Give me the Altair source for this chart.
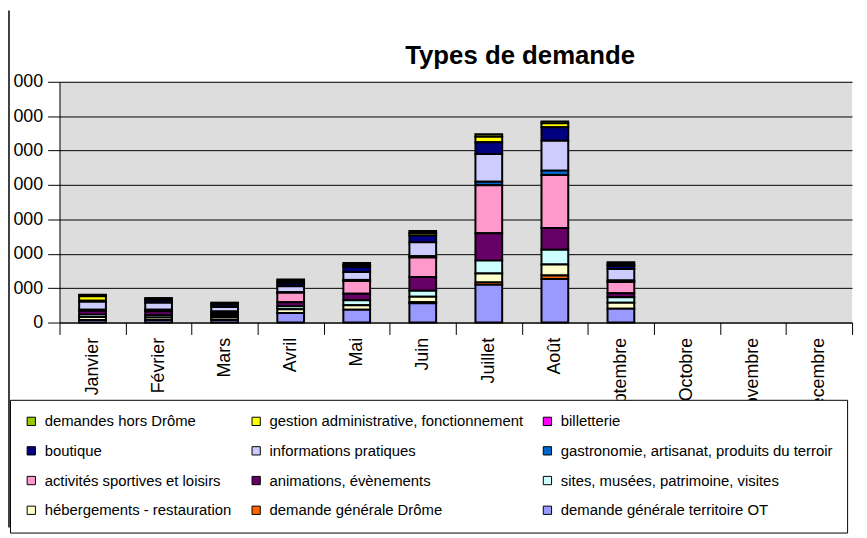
import altair as alt
import pandas as pd

months = ["Janvier", "Février", "Mars", "Avril", "Mai", "Juin", "Juillet",
          "Août", "Septembre", "Octobre", "Novembre", "Décembre"]

# legend order (row-major, as in the reference)
series = [
    "demandes hors Drôme",
    "gestion administrative, fonctionnement",
    "billetterie",
    "boutique",
    "informations pratiques",
    "gastronomie, artisanat, produits du terroir",
    "activités sportives et loisirs",
    "animations, évènements",
    "sites, musées, patrimoine, visites",
    "hébergements - restauration",
    "demande générale Drôme",
    "demande générale territoire OT",
]
colors = ["#99CC00", "#FFFF00", "#FF00FF", "#000080", "#CCCCFF", "#0066CC",
          "#FF99CC", "#660066", "#CCFFFF", "#FFFFCC", "#FF6600", "#9999FF"]

# values per month, Janvier .. Décembre (None = no data)
hors_drome = [43, 35, 29, 58, 58, 58, 72, 58, 58, None, None, None]
gestion = [130, 29, 29, 58, 58, 72, 158, 115, 58, None, None, None]
billetterie = [0, 0, 0, 0, 0, 0, 0, 0, 0, None, None, None]
boutique = [29, 72, 72, 86, 144, 202, 346, 392, 86, None, None, None]
infos = [230, 202, 130, 173, 230, 403, 807, 867, 331, None, None, None]
gastronomie = [0, 0, 0, 15, 29, 40, 100, 124, 43, None, None, None]
activites = [29, 43, 58, 274, 375, 562, 1398, 1542, 331, None, None, None]
animations = [115, 115, 58, 115, 187, 403, 793, 634, 115, None, None, None]
sites = [72, 72, 58, 86, 144, 173, 375, 432, 158, None, None, None]
hebergements = [86, 72, 72, 115, 130, 158, 260, 317, 173, None, None, None]
drome = [0, 0, 0, 0, 0, 30, 70, 100, 0, None, None, None]
territoire = [72, 72, 72, 274, 375, 562, 1095, 1268, 403, None, None, None]

values = [hors_drome, gestion, billetterie, boutique, infos, gastronomie,
          activites, animations, sites, hebergements, drome, territoire]

title_text = ["Types de demande"]

rows = []
for s_idx, (name, vals) in enumerate(zip(series, values)):
    rank = len(series) - 1 - s_idx  # territoire OT at the bottom
    for m, v in zip(months, vals):
        if v is not None and v > 0:
            rows.append({"mois": m, "type": name, "valeur": v, "rang": rank})
df = pd.DataFrame(rows)

FONT = "Liberation Sans, Arial, sans-serif"

bars = alt.Chart(df).mark_bar(size=27, stroke="black", strokeWidth=2).encode(
    x=alt.X("mois:N", sort=months,
            scale=alt.Scale(domain=months, paddingInner=0, paddingOuter=0),
            axis=alt.Axis(title=None, labelAngle=-90, tickBand="extent",
                          labelFontSize=18, labelFont=FONT, labelColor="black",
                          tickColor="black", tickSize=12, domainColor="black",
                          labelPadding=3, grid=False)),
    y=alt.Y("valeur:Q", stack="zero",
            scale=alt.Scale(domain=[0, 7000], nice=False),
            axis=alt.Axis(title=None, values=list(range(0, 7001, 1000)),
                          labelExpr="replace(format(datum.value, ','), ',', ' ')",
                          labelFontSize=18, labelFont=FONT, labelColor="black",
                          tickColor="black", tickSize=12, domainColor="black",
                          labelPadding=5, gridColor="black", gridWidth=1)),
    color=alt.Color("type:N",
                    scale=alt.Scale(domain=series, range=colors),
                    legend=alt.Legend(orient="none", legendX=-50, legendY=321,
                                      direction="horizontal",
                                      columns=3, title=None,
                                      fillColor="white", strokeColor="black",
                                      padding=14, rowPadding=14,
                                      columnPadding=17, labelFont=FONT,
                                      labelFontSize=15, labelColor="black",
                                      labelLimit=400, labelOffset=6,
                                      symbolType="square", symbolSize=70,
                                      symbolStrokeColor="black",
                                      symbolStrokeWidth=1)),
    order=alt.Order("rang:Q", sort="ascending"),
)

frame = alt.Chart(alt.Data(values=[{"a": 1}])).mark_rule(
    color="black", strokeWidth=1.5
).encode(x=alt.value(-51), y=alt.value(-72), y2=alt.value(450))

title = alt.Chart(pd.DataFrame({"t": title_text})).mark_text(
    font=FONT, fontSize=26, fontWeight="bold", color="black",
    align="center", baseline="alphabetic"
).encode(text="t:N", x=alt.value(465), y=alt.value(-18))

chart = alt.layer(bars, frame, title).properties(
    width=800,
    height=243,
    autosize=alt.AutoSizeParams(type="none"),
    padding={"left": 52, "top": 72, "right": 7, "bottom": 215},
).configure_view(fill="#DDDDDD", stroke=None)

chart.save("out.html", embed_options={"renderer": "svg", "actions": False})
